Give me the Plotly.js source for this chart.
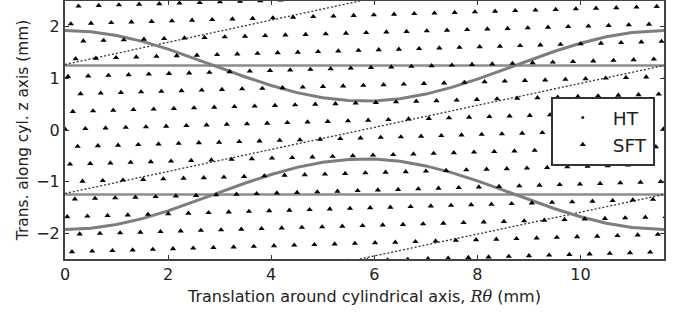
<!DOCTYPE html>
<html><head><meta charset="utf-8">
<script src="https://cdn.plot.ly/plotly-3.0.1.min.js"></script>
<style>html,body{margin:0;padding:0;background:#fff}#chart{width:679px;height:315px}</style>
</head><body><div id="chart"></div>
<script>
// HT: sinusoidal bands
const curveX = [0,0.5,1,1.5,2,2.5,3,3.5,4,4.5,5,5.5,6,6.5,7,7.5,8,8.5,9,9.5,10,10.5,11,11.5,11.62];
const upperCurveY = [1.93,1.905,1.832,1.717,1.567,1.394,1.21,1.028,0.863,0.724,0.625,0.57,0.564,0.607,0.696,0.825,0.987,1.165,1.35,1.526,1.681,1.808,1.891,1.926,1.93];
const lowerCurveY = [-1.93,-1.905,-1.832,-1.717,-1.567,-1.394,-1.21,-1.028,-0.863,-0.724,-0.625,-0.57,-0.564,-0.607,-0.696,-0.825,-0.987,-1.165,-1.35,-1.526,-1.681,-1.808,-1.891,-1.926,-1.93];
// HT: horizontal levels
const levelX = [0, 11.62];
const upperLevelY = [1.25, 1.25];
const lowerLevelY = [-1.25, -1.25];
// HT: helical dotted lines
const helixAX = [0, 5.72];
const helixAY = [1.27, 2.5];
const helixBX = [0, 11.62];
const helixBY = [-1.23, 1.25];
const helixCX = [5.72, 11.62];
const helixCY = [-2.5, -1.25];
// SFT lattice: first triangle of each row, plus the in-row step
const sftRowX = [0.262,0.113,0.356,0.207,0.058,0.301,0.152,0.003,0.246,0.097,0.340,0.191,0.042,0.285,0.136,-0.013];
const sftRowY = [2.400,2.056,1.723,1.379,1.035,0.702,0.358,0.014,-0.319,-0.663,-0.995,-1.339,-1.683,-2.017,-2.361,-2.705];
const sftStepX = 0.3919;
const sftStepY = 0.0116;
const sftPerRow = 30;

const sftX = [], sftY = [];
sftRowX.forEach((x0, r) => {
  for (let k = 0; k < sftPerRow; k++) {
    const x = x0 + k * sftStepX, y = sftRowY[r] + k * sftStepY;
    if (x <= 11.72 && y >= -2.58 && y <= 2.58) { sftX.push(x); sftY.push(y); }
  }
});

const FONT = 'DejaVu Sans, Liberation Sans, sans-serif';
const bandStyle = {mode:'lines', line:{color:'#7d7d7d', width:3}, showlegend:false, hoverinfo:'skip'};
const levelStyle = {mode:'lines', line:{color:'#8c8c8c', width:2.5}, showlegend:false, hoverinfo:'skip'};
const helixStyle = {mode:'lines', line:{color:'#333', width:1.3, dash:'2px,2px'}, showlegend:false, hoverinfo:'skip'};

const traces = [
  Object.assign({x:levelX, y:upperLevelY}, levelStyle),
  Object.assign({x:levelX, y:lowerLevelY}, levelStyle),
  Object.assign({x:helixAX, y:helixAY}, helixStyle),
  Object.assign({x:helixBX, y:helixBY}, helixStyle),
  Object.assign({x:helixCX, y:helixCY}, helixStyle),
  Object.assign({x:curveX, y:upperCurveY}, bandStyle),
  Object.assign({x:curveX, y:lowerCurveY}, bandStyle),
  {x:[null], y:[null], mode:'markers', name:'HT', legendrank:1,
   marker:{symbol:'circle', size:3, color:'#222'}},
  {x:sftX, y:sftY, mode:'markers', name:'SFT', legendrank:2,
   marker:{symbol:'triangle-up', size:5.5, color:'#000'}}
];

const axisCommon = {
  showgrid:false, zeroline:false, showline:true, mirror:'ticks',
  linecolor:'#444', linewidth:2, ticks:'inside', ticklen:4, tickwidth:1, tickcolor:'#333',
  tickfont:{family:FONT, size:16, color:'#222'}
};

const layout = {
  width:679, height:315,
  margin:{l:65, r:15, t:1, b:56, pad:0},
  paper_bgcolor:'#fff', plot_bgcolor:'#fff',
  font:{family:FONT, color:'#222'},
  xaxis:Object.assign({}, axisCommon, {
    range:[0, 11.62], tickvals:[0,2,4,6,8,10], ticktext:['0','2','4','6','8','10'],
    title:{text:'Translation around cylindrical axis, <i><span style="font-family:DejaVu Serif">Rθ</span></i> (mm)',
           font:{family:FONT, size:16, color:'#222'}, standoff:8}
  }),
  yaxis:Object.assign({}, axisCommon, {
    range:[-2.5, 2.5], tickvals:[-2,-1,0,1,2],
    title:{text:'\u00A0\u00A0Trans. along cyl. z axis (mm)', font:{family:FONT, size:15.4, color:'#222'}, standoff:4}
  }),
  legend:{x:0.811, y:0.628, xanchor:'left', yanchor:'top', bgcolor:'#fff',
          bordercolor:'#333', borderwidth:2, font:{family:FONT, size:18.5, color:'#222'},
          itemwidth:50, traceorder:'normal'},
  showlegend:true
};

Plotly.newPlot('chart', traces, layout, {staticPlot:true, displayModeBar:false});
</script>
</body></html>
